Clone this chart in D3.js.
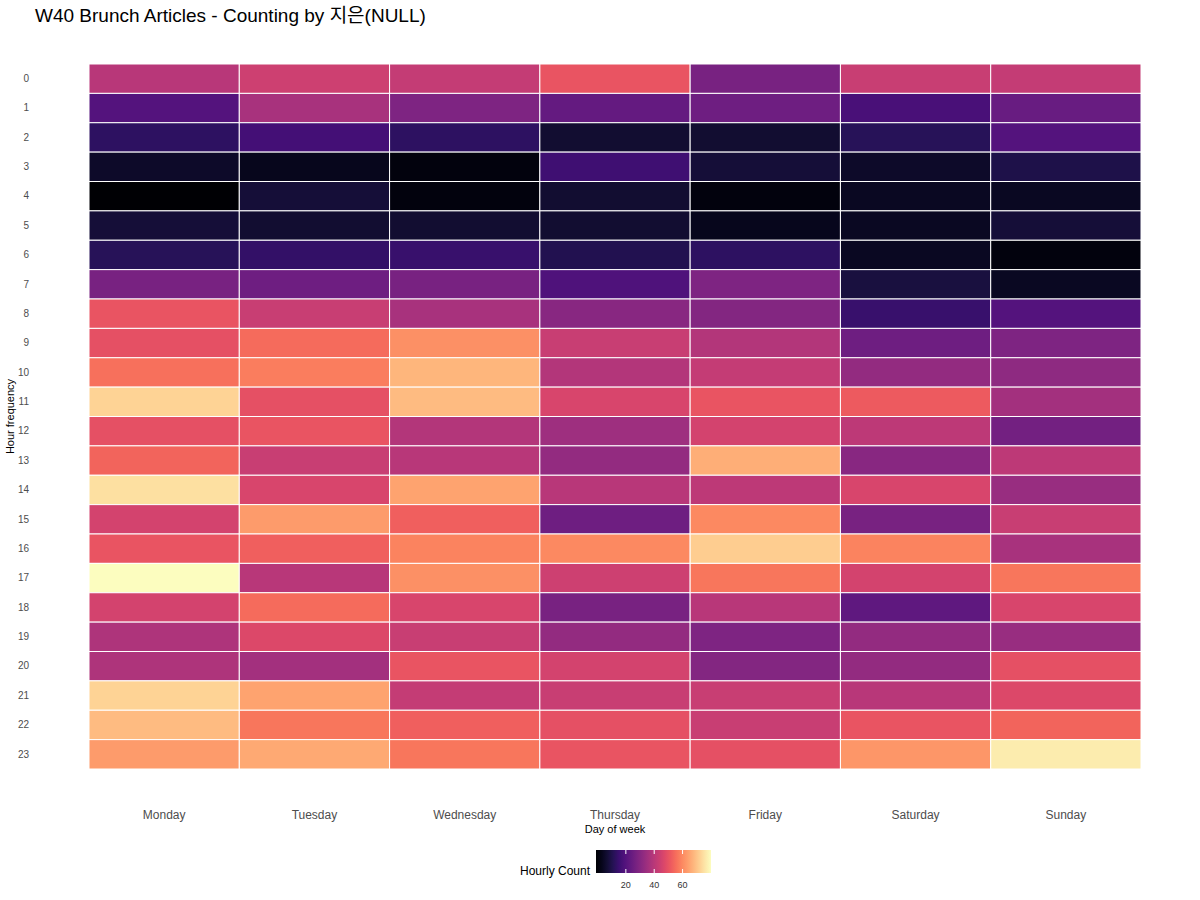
<!DOCTYPE html>
<html>
<head>
<meta charset="utf-8">
<script src="https://cdn.jsdelivr.net/npm/d3@7"></script>
<style>
  body { margin: 0; background: #fff; }
  svg { font-family: "Liberation Sans", Arial, "Noto Sans CJK KR", sans-serif; }
</style>
</head>
<body>
<div id="chart"></div>
<script>
// hourly article counts per weekday (hour 0..23)
const days = ["Monday", "Tuesday", "Wednesday", "Thursday", "Friday", "Saturday", "Sunday"];
const hours = d3.range(24).map(String);

const monday    = [40, 21, 14, 7, 1, 9, 13, 28, 50, 49, 55, 71, 49, 53, 73, 45, 50, 78, 45, 38, 38, 71, 67, 62];
const tuesday   = [44, 37, 18, 5, 9, 8, 15, 26, 43, 54, 57, 49, 50, 43, 46, 62, 52, 40, 54, 47, 36, 63, 56, 64];
const wednesday = [42, 29, 14, 3, 3, 8, 16, 28, 37, 60, 66, 67, 39, 40, 63, 52, 58, 60, 46, 43, 50, 42, 52, 56];
const thursday  = [50, 24, 8, 17, 8, 8, 12, 20, 31, 43, 39, 46, 35, 33, 40, 26, 59, 44, 28, 33, 45, 43, 49, 50];
const friday    = [28, 26, 8, 9, 3, 5, 14, 29, 30, 39, 42, 50, 45, 65, 41, 59, 70, 56, 40, 29, 30, 43, 43, 49];
const saturday  = [43, 19, 13, 7, 6, 6, 6, 10, 16, 26, 33, 51, 41, 31, 46, 28, 58, 45, 23, 33, 33, 40, 50, 61];
const sunday    = [42, 25, 21, 11, 6, 9, 3, 6, 21, 29, 32, 36, 27, 41, 34, 43, 37, 56, 46, 34, 49, 47, 53, 75];

const counts = [monday, tuesday, wednesday, thursday, friday, saturday, sunday];
const legendTicks = [20, 40, 60];

const cells = [];
days.forEach((day, i) => {
  counts[i].forEach((v, h) => cells.push({ day: day, hour: hours[h], count: v }));
});

const width = 1200, height = 900;
const gridLeft = 89, gridRight = 1141, gridTop = 64, gridBottom = 769;

const svg = d3.select("#chart").append("svg")
    .attr("width", width)
    .attr("height", height);

const x = d3.scaleBand().domain(days).range([gridLeft, gridRight]);
const y = d3.scaleBand().domain(hours).range([gridTop, gridBottom]);

const color = d3.scaleSequential(d3.interpolateMagma)
    .domain(d3.extent(cells, d => d.count));

// tiles
svg.append("g")
  .selectAll("rect")
  .data(cells)
  .enter().append("rect")
    .attr("x", d => x(d.day))
    .attr("y", d => y(d.hour))
    .attr("width", x.bandwidth())
    .attr("height", y.bandwidth())
    .attr("fill", d => color(d.count))
    .attr("stroke", "#fff")
    .attr("stroke-width", 1);

// x axis
const xAxis = svg.append("g")
    .attr("transform", `translate(0,${gridBottom})`)
    .call(d3.axisBottom(x).tickSize(0).tickPadding(41));
xAxis.select(".domain").remove();
xAxis.selectAll("text")
    .attr("font-size", 12)
    .attr("fill", "#4d4d4d");

// y axis
const yAxis = svg.append("g")
    .attr("transform", `translate(${gridLeft},0)`)
    .call(d3.axisLeft(y).tickSize(0).tickPadding(60));
yAxis.select(".domain").remove();
yAxis.selectAll("text")
    .attr("font-size", 10)
    .attr("fill", "#4d4d4d");
xAxis.attr("font-family", null);
yAxis.attr("font-family", null);

// axis titles
svg.append("text")
    .attr("x", (gridLeft + gridRight) / 2)
    .attr("y", 833)
    .attr("text-anchor", "middle")
    .attr("font-size", 11)
    .text("Day of week");

svg.append("text")
    .attr("transform", `translate(14,${(gridTop + gridBottom) / 2}) rotate(-90)`)
    .attr("text-anchor", "middle")
    .attr("font-size", 11)
    .text("Hour frequency");

// title
svg.append("text")
    .attr("x", 35)
    .attr("y", 22)
    .attr("font-size", 19)
    .text("W40 Brunch Articles - Counting by 지은(NULL)");

// legend colourbar (ticks sit half a bin in from each end, like ggplot)
const barX = 596, barY = 850, barW = 115, barH = 23;
const lx = d3.scaleLinear().domain(color.domain()).range([barX + 2.9, barX + barW - 2.9]);

const defs = svg.append("defs");
const grad = defs.append("linearGradient").attr("id", "magma-grad");
d3.range(0, 1.0001, 0.05).forEach(t => {
  grad.append("stop")
      .attr("offset", `${t * 100}%`)
      .attr("stop-color", d3.interpolateMagma(t));
});

const legend = svg.append("g");
legend.append("rect")
    .attr("x", barX)
    .attr("y", barY)
    .attr("width", barW)
    .attr("height", barH)
    .attr("fill", "url(#magma-grad)");

legend.selectAll(".tick-top")
  .data(legendTicks)
  .enter().append("line")
    .attr("x1", d => lx(d)).attr("x2", d => lx(d))
    .attr("y1", barY).attr("y2", barY + 4)
    .attr("stroke", "#fff");

legend.selectAll(".tick-bot")
  .data(legendTicks)
  .enter().append("line")
    .attr("x1", d => lx(d)).attr("x2", d => lx(d))
    .attr("y1", barY + barH - 4).attr("y2", barY + barH)
    .attr("stroke", "#fff");

legend.selectAll(".tick-label")
  .data(legendTicks)
  .enter().append("text")
    .attr("x", d => lx(d))
    .attr("y", 888)
    .attr("text-anchor", "middle")
    .attr("font-size", 9)
    .attr("fill", "#333")
    .text(d => d);

legend.append("text")
    .attr("x", 590)
    .attr("y", 875)
    .attr("text-anchor", "end")
    .attr("font-size", 12)
    .text("Hourly Count");
</script>
</body>
</html>
